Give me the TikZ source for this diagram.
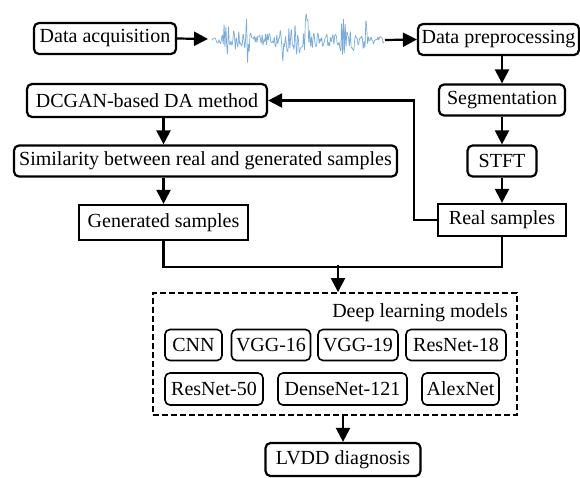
\documentclass[tikz,border=0pt]{standalone}
\usepackage{fontspec}
\setmainfont{Liberation Serif}
\usetikzlibrary{arrows.meta,calc}
\begin{document}
\begin{tikzpicture}[x=1pt,y=-1pt,
  every node/.style={font=\fontsize{20}{24}\selectfont, inner sep=0pt},
  rbox/.style={draw, line width=2.2pt, rounded corners=5pt, minimum height=31pt},
  sbox/.style={draw, line width=2.2pt, minimum height=32pt},
  mbox/.style={draw, line width=1.6pt, rounded corners=5pt, minimum height=31pt},
  flow/.style={line width=2.2pt, -{Triangle[length=14pt,width=14pt]}},
  link/.style={line width=2.2pt}]
\useasboundingbox (0,0) rectangle (580,477);

% top row
\node[rbox, minimum width=142pt] (acq) at (105,38.5) {Data acquisition};
\node[rbox, minimum width=161pt] (pre) at (498.5,39.5) {Data preprocessing};
\coordinate (w1) at (208,39);
\coordinate (w2) at (385,40);

% vibration signal
\pgfmathsetseed{11}
\draw[color={rgb,255:red,120;green,172;blue,220}, line width=0.7pt, line join=round]
  plot[domain=212:384, samples=200, smooth=false]
  (\x, {40 + rand*(4 + 4*exp(-((\x-300)/40)^2)
        + 24*exp(-((\x-226)/2.5)^2) + 22*exp(-((\x-247)/2.5)^2)
        + 26*exp(-((\x-284)/2.5)^2) + 20*exp(-((\x-307)/2.5)^2)
        + 24*exp(-((\x-343)/2.5)^2) + 18*exp(-((\x-365)/2.5)^2)
        + 9*exp(-((\x-236)/6)^2) + 9*exp(-((\x-295)/6)^2)
        + 8*exp(-((\x-352)/6)^2))});

% right column
\node[rbox, minimum width=126pt] (seg) at (502,100) {Segmentation};
\node[rbox, minimum width=69pt] (stft) at (502,161) {STFT};
\node[sbox, minimum width=128pt] (real) at (502,220) {Real samples};

% left column
\node[rbox, minimum width=240pt, minimum height=33pt] (dcgan) at (147,100.5) {DCGAN-based DA method};
\node[rbox, minimum width=383pt] (sim) at (205.5,161) {Similarity between real and generated samples};
\node[sbox, minimum width=169pt, minimum height=35pt] (gen) at (163.5,222.5) {Generated samples};

% model group
\node[draw, dashed, dash pattern=on 6pt off 3pt, line width=1.8pt,
      minimum width=364pt, minimum height=122pt] (dl) at (335,354) {};
\node[anchor=east] (dltitle) at (508,313) {Deep learning models};
\node[mbox, minimum width=57pt] (cnn) at (193.5,345) {CNN};
\node[mbox, minimum width=79pt] (vgg16) at (271,345) {VGG-16};
\node[mbox, minimum width=80pt] (vgg19) at (358,345) {VGG-19};
\node[mbox, minimum width=100pt] (r18) at (456,345) {ResNet-18};
\node[mbox, minimum width=98pt, minimum height=32pt] (r50) at (214,389) {ResNet-50};
\node[mbox, minimum width=129pt, minimum height=32pt] (dense) at (342.5,389) {DenseNet-121};
\node[mbox, minimum width=77pt, minimum height=32pt] (alex) at (460.5,389) {AlexNet};

\node[rbox, minimum width=155pt, minimum height=33pt] (lvdd) at (343,459.5) {LVDD diagnosis};

% connectors
\draw[flow] (acq.east) -- (w1);
\draw[flow] (w2) -- (pre.west);
\draw[flow] (seg.north |- pre.south) -- (seg.north);
\draw[flow] (seg.south) -- (stft.north);
\draw[flow] (stft.south) -- (real.north);
\draw[flow] (real.west) -- ++(-23,0) |- (dcgan.east);
\draw[flow] (gen.north |- dcgan.south) -- (gen.north |- sim.north);
\draw[flow] (gen.north |- sim.south) -- (gen.north);
\draw[link] (gen.south) -- ++(0,25.5) coordinate (j0) -| (real.south);
\coordinate (j) at (338,265);
\draw[flow] (j) -- (j |- dl.north);
\draw[flow] (lvdd.north |- dl.south) -- (lvdd.north);
\end{tikzpicture}
\end{document}
